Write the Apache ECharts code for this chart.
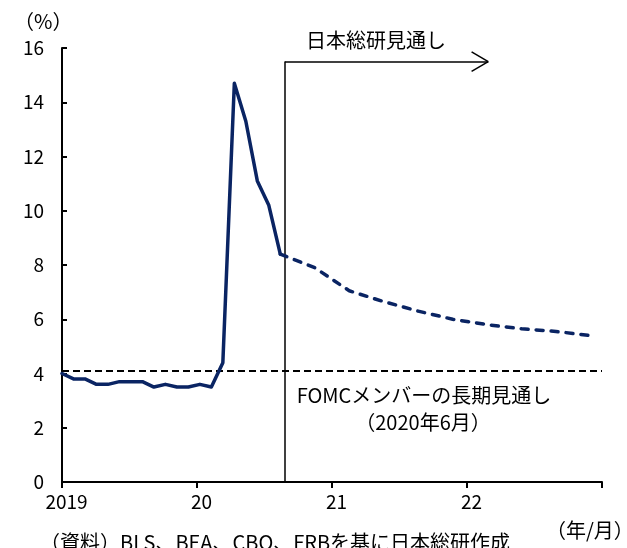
<!DOCTYPE html>
<html>
<head>
<meta charset="utf-8">
<script src="https://cdn.jsdelivr.net/npm/echarts@6/dist/echarts.min.js"></script>
<style>
  html, body { margin: 0; padding: 0; background: #fff; }
  #chart { width: 627px; height: 548px; }
</style>
</head>
<body>
<div id="chart"></div>
<script>
// US unemployment rate (%), monthly actuals from Jan 2019
const actualStart = '2019-01';
const actualRate = [
  4.0, 3.8, 3.8, 3.6, 3.6, 3.7, 3.7, 3.7, 3.5, 3.6, 3.5, 3.5,
  3.6, 3.5, 4.4, 14.7, 13.3, 11.1, 10.2, 8.4
];

// Outlook (quarterly, plotted at mid-quarter months)
const forecastMonths = [
  '2020-08', '2020-11', '2021-02', '2021-05', '2021-08',
  '2021-11', '2022-02', '2022-05', '2022-08', '2022-11'
];
const forecastRate = [8.4, 7.9, 7.05, 6.65, 6.3, 6.0, 5.8, 5.65, 5.55, 5.4];

// FOMC longer-run projection (June 2020)
const fomcLongRun = 4.1;

// Axis tick labels
const yearLabels = ['2019', '20', '21', '22', ''];
const yTicks = { min: 0, max: 16, step: 2 };

const FONT = '"Noto Sans CJK JP", "Noto Sans", sans-serif';
const NAVY = '#0a2463';
const TEXT_FONT = '20px ' + FONT;

function monthIndex(ym) {
  const [y, m] = ym.split('-').map(Number);
  const [y0, m0] = actualStart.split('-').map(Number);
  return (y - y0) * 12 + (m - m0);
}

const actualData = actualRate.map((v, i) => [i, v]);
const forecastData = forecastRate.map((v, k) => [monthIndex(forecastMonths[k]), v]);

const lastMonth = monthIndex('2022-12');
const yearStep = lastMonth / 4;

// outlook annotation: vertical divider + arrow
const dividerAt = 19.4;
const arrowLevel = 15.5;
const arrowEnd = 37.1;
const headLen = 1.45, headRise = 0.36;

const chart = echarts.init(document.getElementById('chart'), null, { renderer: 'canvas' });

chart.setOption({
  animation: false,
  backgroundColor: '#fff',
  grid: { left: 62, right: 25, top: 48, bottom: 66, containLabel: false },
  xAxis: {
    type: 'value',
    min: 0,
    max: lastMonth,
    interval: yearStep,
    axisLine: { onZero: false, lineStyle: { color: '#000', width: 2 } },
    axisTick: { show: true, inside: false, length: 6, lineStyle: { color: '#000', width: 2 } },
    splitLine: { show: false },
    axisLabel: {
      color: '#000',
      fontFamily: FONT,
      fontSize: 19,
      margin: 10,
      padding: [0, 0, 0, 9],
      showMaxLabel: true,
      formatter: v => yearLabels[Math.round(v / yearStep)] || ''
    }
  },
  yAxis: {
    type: 'value',
    min: yTicks.min,
    max: yTicks.max,
    interval: yTicks.step,
    axisLine: { show: true, lineStyle: { color: '#000', width: 2 } },
    axisTick: { show: true, inside: true, length: 5, lineStyle: { color: '#000', width: 2 } },
    splitLine: { show: false },
    axisLabel: { color: '#000', fontFamily: FONT, fontSize: 19, margin: 18 }
  },
  series: [
    {
      name: '失業率',
      type: 'line',
      data: actualData,
      symbol: 'none',
      lineStyle: { color: NAVY, width: 3.5, cap: 'round', join: 'round' },
      z: 5,
      markLine: {
        silent: true,
        symbol: 'none',
        label: { show: false },
        lineStyle: { color: '#000', width: 2, type: [7, 4] },
        data: [{ yAxis: fomcLongRun }]
      }
    },
    {
      name: '日本総研見通し',
      type: 'line',
      data: forecastData,
      symbol: 'none',
      lineStyle: { color: NAVY, width: 3.5, type: [7, 8], cap: 'round', join: 'round' },
      z: 5,
      markLine: {
        silent: true,
        symbol: 'none',
        label: { show: false },
        lineStyle: { color: '#000', width: 1.5, type: 'solid' },
        data: [
          [{ coord: [dividerAt, 0] }, { coord: [dividerAt, arrowLevel] }],
          [{ coord: [dividerAt, arrowLevel] }, { coord: [arrowEnd, arrowLevel] }],
          [{ coord: [arrowEnd - headLen, arrowLevel + headRise] }, { coord: [arrowEnd, arrowLevel] }],
          [{ coord: [arrowEnd - headLen, arrowLevel - headRise] }, { coord: [arrowEnd, arrowLevel] }]
        ]
      }
    }
  ],
  graphic: [
    { type: 'text', x: 14, y: 21, style: { text: '（%）', font: TEXT_FONT, fill: '#000', align: 'left', verticalAlign: 'middle' } },
    { type: 'text', x: 306, y: 40, style: { text: '日本総研見通し', font: TEXT_FONT, fill: '#000', align: 'left', verticalAlign: 'middle' } },
    { type: 'text', x: 424, y: 395, style: { text: 'FOMCメンバーの長期見通し', font: TEXT_FONT, fill: '#000', align: 'center', verticalAlign: 'middle' } },
    { type: 'text', x: 423, y: 422, style: { text: '（2020年6月）', font: TEXT_FONT, fill: '#000', align: 'center', verticalAlign: 'middle' } },
    { type: 'text', x: 546, y: 530, style: { text: '（年/月）', font: TEXT_FONT, fill: '#000', align: 'left', verticalAlign: 'middle' } },
    { type: 'text', x: 40, y: 542, style: { text: '（資料）BLS、BEA、CBO、FRBを基に日本総研作成', font: TEXT_FONT, fill: '#000', align: 'left', verticalAlign: 'middle' } }
  ]
});
</script>
</body>
</html>
